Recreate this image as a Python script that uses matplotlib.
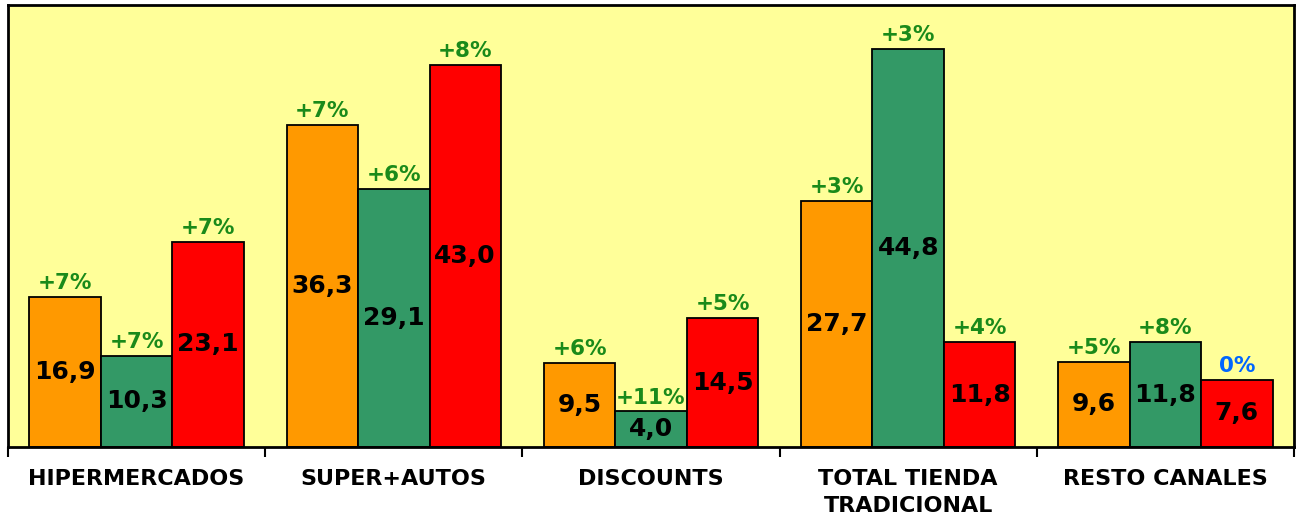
import matplotlib
matplotlib.use("Agg")
import matplotlib.pyplot as plt
import numpy as np

categories = ["HIPERMERCADOS", "SUPER+AUTOS", "DISCOUNTS", "TOTAL TIENDA\nTRADICIONAL", "RESTO CANALES"]
serie_naranja = [16.9, 36.3, 9.5, 27.7, 9.6]
serie_verde = [10.3, 29.1, 4.0, 44.8, 11.8]
serie_roja = [23.1, 43.0, 14.5, 11.8, 7.6]
pct_naranja = ["+7%", "+7%", "+6%", "+3%", "+5%"]
pct_verde = ["+7%", "+6%", "+11%", "+3%", "+8%"]
pct_roja = ["+7%", "+8%", "+5%", "+4%", "0%"]

plt.rcParams['font.family'] = ['DejaVu Sans']

fig = plt.figure(figsize=(12.96, 5.27), dpi=100)
ax = fig.add_axes([8/1296, 1-447/527, 1286/1296, 442/527])
ax.set_facecolor("#FFFF99")

x = np.arange(len(categories))
w = 1/3.6
series = [(serie_naranja, pct_naranja, "#FF9900"),
          (serie_verde, pct_verde, "#339966"),
          (serie_roja, pct_roja, "#FF0000")]
for i, (vals, pcts, col) in enumerate(series):
    xs = x + (i-1)*w
    ax.bar(xs, vals, width=w, color=col, edgecolor="black", linewidth=1.3, zorder=2)
    for xi, v, p in zip(xs, vals, pcts):
        ax.text(xi, v/2, f"{v:.1f}".replace(".", ","), ha="center", va="center",
                fontsize=18, fontweight="bold", color="black", zorder=3)
        pc = "#0066FF" if p == "0%" else "#1A8A1A"
        ax.text(xi, v + 0.45, p, ha="center", va="bottom", fontsize=15.5,
                fontweight="bold", color=pc, zorder=3)

ax.set_xlim(-0.5, len(categories)-0.5)
ax.set_ylim(0, 49.8)
ax.set_yticks([])
ax.set_xticks(x)
ax.set_xticklabels(categories, fontsize=16, fontweight="bold", linespacing=1.4)
ax.tick_params(axis="x", which="major", length=0, pad=16)
ax.set_xticks(np.arange(-0.5, len(categories)), minor=True)
ax.tick_params(axis="x", which="minor", length=7, width=1.5, color="black")
for s in ax.spines.values():
    s.set_linewidth(2)
    s.set_color("black")

fig.savefig("out.png", dpi=100, facecolor="white")
